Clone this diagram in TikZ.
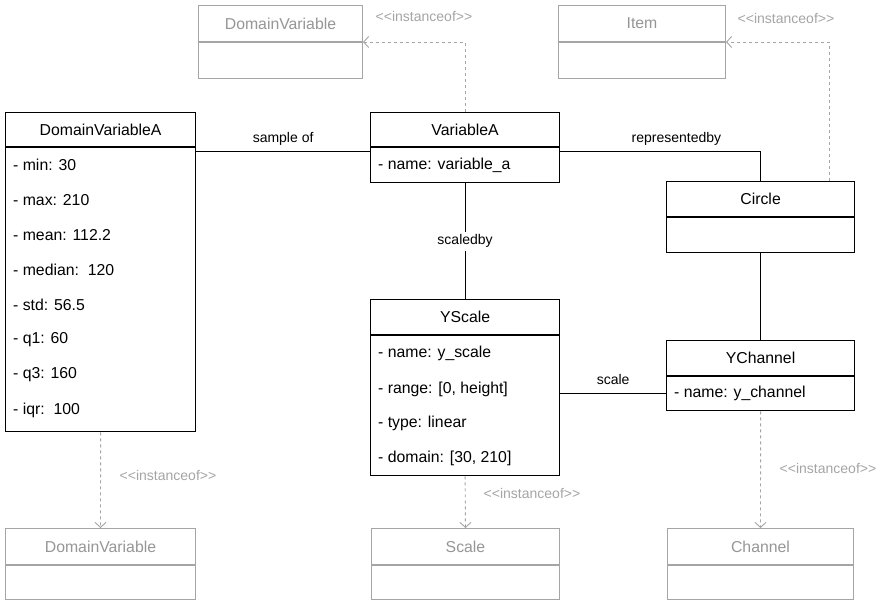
\documentclass[tikz,border=0pt]{standalone}
\usepackage{fontspec}
\setmainfont{Liberation Sans}
\usetikzlibrary{arrows.meta,calc}

\definecolor{ghost}{RGB}{165,165,165}
\definecolor{ghosttext}{RGB}{150,150,150}

\tikzset{
  every node/.style={font=\fontsize{15.8}{18}\selectfont},
  cls/.style={draw=black, line width=1.2pt, rectangle, inner sep=0pt, anchor=north west},
  ghostcls/.style={draw=ghost, line width=1pt, rectangle, inner sep=0pt, anchor=north west, text=ghosttext},
  attr/.style={anchor=west, inner sep=0pt},
  assoc/.style={draw=black, line width=1pt},
  lbl/.style={font=\fontsize{14}{16}\selectfont, inner sep=1pt},
  inst/.style={draw=ghost, line width=0.9pt, dash pattern=on 3pt off 3pt,
    -{Straight Barb[length=5pt,width=11pt,line width=0.9pt]}},
  stereo/.style={font=\fontsize{14}{16}\selectfont, text=ghost, inner sep=0pt},
}
\newcommand{\stereotxt}{<{}<instanceof>{}>}

\begin{document}
\begin{tikzpicture}[x=1pt,y=-1pt]
\useasboundingbox[fill=white] (0,0) rectangle (884,601);

% ---- type classes (top row) ----
\node[ghostcls, minimum width=164, minimum height=36] (dvTopH) at (198,5) {DomainVariable};
\node[ghostcls, minimum width=164, minimum height=36] (dvTopB) at (dvTopH.south west) {};
\node[ghostcls, minimum width=167, minimum height=36] (itemH) at (558,5) {Item};
\node[ghostcls, minimum width=167, minimum height=36] (itemB) at (itemH.south west) {};

% ---- DomainVariableA ----
\node[cls, minimum width=190, minimum height=34] (dvaH) at (5,112) {DomainVariableA};
\node[cls, minimum width=190, minimum height=284] (dvaB) at (dvaH.south west) {};
\node[attr] (dva1) at (13,165) {- min: 30};
\node[attr] (dva2) at (13,200) {- max: 210};
\node[attr] (dva3) at (13,235) {- mean: 112.2};
\node[attr] (dva4) at (13,270) {- median:\ \ 120};
\node[attr] (dva5) at (13,305) {- std: 56.5};
\node[attr] (dva6) at (13,340) {- q1: 60};
\node[attr] (dva7) at (13,375) {- q3: 160};
\node[attr] (dva8) at (13,410) {- iqr:\ \ 100};

% ---- VariableA ----
\node[cls, minimum width=189, minimum height=34] (varH) at (370,112) {VariableA};
\node[cls, minimum width=189, minimum height=35] (varB) at (varH.south west) {};
\node[attr] (var1) at (378,165) {- name: variable\_a};

% ---- YScale ----
\node[cls, minimum width=189, minimum height=35] (ysH) at (370,299) {YScale};
\node[cls, minimum width=189, minimum height=140] (ysB) at (ysH.south west) {};
\node[attr] (ys1) at (378,353) {- name: y\_scale};
\node[attr] (ys2) at (378,389) {- range: [0, height]};
\node[attr] (ys3) at (378,423) {- type: linear};
\node[attr] (ys4) at (378,458) {- domain: [30, 210]};

% ---- Circle ----
\node[cls, minimum width=188, minimum height=35] (circH) at (666,181) {Circle};
\node[cls, minimum width=188, minimum height=35] (circB) at (circH.south west) {};

% ---- YChannel ----
\node[cls, minimum width=188, minimum height=35] (ychH) at (666,340) {YChannel};
\node[cls, minimum width=188, minimum height=34] (ychB) at (ychH.south west) {};
\node[attr] (ych1) at (674,393) {- name: y\_channel};

% ---- type classes (bottom row) ----
\node[ghostcls, minimum width=190, minimum height=36] (dvBotH) at (5,528) {DomainVariable};
\node[ghostcls, minimum width=190, minimum height=34] (dvBotB) at (dvBotH.south west) {};
\node[ghostcls, minimum width=188, minimum height=36] (scaleH) at (371,528) {Scale};
\node[ghostcls, minimum width=188, minimum height=34] (scaleB) at (scaleH.south west) {};
\node[ghostcls, minimum width=186, minimum height=36] (chanH) at (667,528) {Channel};
\node[ghostcls, minimum width=186, minimum height=34] (chanB) at (chanH.south west) {};

% ---- associations ----
\draw[assoc] ([yshift=-4pt]dvaH.south east) -- ([yshift=-4pt]varH.south west)
  node[lbl, midway, above=4pt] (lSample) {sample of};
\draw[assoc] ([yshift=-4pt]varH.south east) -| (circH.north)
  node[lbl, pos=0.29, above=4pt] (lRep) {representedby};
\draw[assoc] (varB.south) -- (ysH.north)
  node[lbl, midway, fill=white, inner sep=3pt] (lScaled) {scaledby};
\draw[assoc] (ychB.west) -- (ychB.west -| ysB.east)
  node[lbl, midway, above=8pt] (lScale) {scale};
\draw[assoc] (circB.south) -- (ychH.north);

% ---- instance-of links ----
\draw[inst] (varH.north) |- (dvTopH.south east);
\node[stereo] (sTop1) at (424,17) {\stereotxt};
\draw[inst] ([xshift=-26pt]circH.north east) |- (itemH.south east);
\node[stereo] (sTop2) at (786,19) {\stereotxt};
\draw[inst] (dvaB.south) -- (dvBotH.north);
\node[stereo] (sBot1) at (168,475) {\stereotxt};
\draw[inst] (ysB.south) -- (scaleH.north);
\node[stereo] (sBot2) at (532,493) {\stereotxt};
\draw[inst] (ychB.south) -- (chanH.north);
\node[stereo] (sBot3) at (828,468) {\stereotxt};
\end{tikzpicture}
\end{document}
